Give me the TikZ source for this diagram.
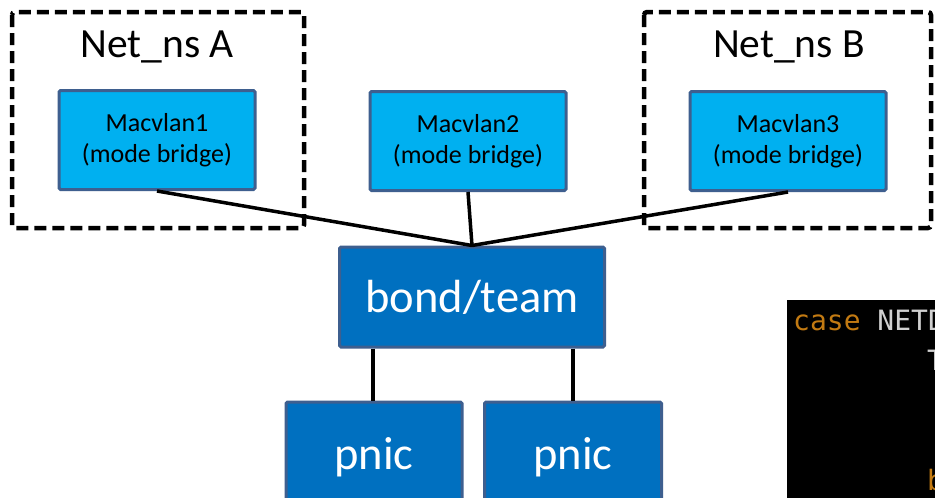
\documentclass[tikz,border=0pt]{standalone}
\usepackage{fontspec}
\setmainfont{Carlito}
\newfontfamily\codefont{DejaVu Sans Mono}
\definecolor{lightnic}{HTML}{00B0F0}
\definecolor{darknic}{HTML}{0070C0}
\definecolor{nicborder}{HTML}{3E5F8F}
\definecolor{kwcolor}{HTML}{C27A12}
\definecolor{idcolor}{HTML}{D0D0D0}
\tikzset{
  nsbox/.style={draw=black, line width=4.5pt, dash pattern=on 12pt off 6pt, rounded corners=3pt},
  nstitle/.style={font=\fontsize{41.5}{48}\selectfont, text=black, inner sep=0pt},
  macbox/.style={draw=nicborder, line width=3pt, fill=lightnic, rounded corners=1.5pt,
    minimum width=196pt, minimum height=99pt, inner sep=0pt, align=center,
    font=\fontsize{26}{31}\selectfont, text=black},
  devbox/.style={draw=nicborder, line width=3pt, fill=darknic, rounded corners=1.5pt,
    inner sep=0pt, text=white, font=\fontsize{46.5}{52}\selectfont},
  link/.style={draw=black, line width=3.5pt},
  codetext/.style={anchor=base west, inner sep=0pt, font=\codefont\fontsize{28}{40}\selectfont}
}
\begin{document}
\begin{tikzpicture}[x=1pt,y=-1pt]
  \useasboundingbox (0,0) rectangle (935,498);
  \fill[white] (0,0) rectangle (935,498);

  % network namespaces
  \draw[nsbox] (12,12) rectangle (304,228);
  \draw[nsbox] (644,12) rectangle (931,228);
  \node[nstitle] (nsA) at (157,47) {Net\_ns A};
  \node[nstitle] (nsB) at (789,47) {Net\_ns B};

  % macvlan devices
  \node[macbox] (mv1) at (157,140) {Macvlan1\\(mode bridge)};
  \node[macbox] (mv2) at (468,141) {Macvlan2\\(mode bridge)};
  \node[macbox] (mv3) at (788,141) {Macvlan3\\(mode bridge)};

  % bond / team and physical NICs
  \node[devbox, minimum width=265pt, minimum height=100pt] (bond) at (472,297) {bond/team};
  \node[devbox, minimum width=176pt, minimum height=110pt] (pnic1) at (374,457) {pnic};
  \node[devbox, minimum width=177pt, minimum height=110pt] (pnic2) at (573,457) {pnic};

  % links
  \coordinate (hub) at (bond.north);
  \draw[link] (mv1.south) -- (hub);
  \draw[link] (mv2.south) -- (hub);
  \draw[link] (mv3.south) -- (hub);
  \draw[link] (bond.south -| 373,0) -- (pnic1.north -| 373,0);
  \draw[link] (bond.south -| 573,0) -- (pnic2.north -| 573,0);

  % code snippet, running off the right edge
  \begin{scope}
    \clip (787,300) rectangle (935,498);
    \fill[black] (787,300) rectangle (935,498);
    \node[codetext] (code1) at (793,330)
      {\textcolor{kwcolor}{case} \textcolor{idcolor}{NETDEV}};
    \node[codetext, text=idcolor] (code2) at (927,370) {T};
    \node[codetext, text=kwcolor] (code5) at (927,490) {b};
  \end{scope}
\end{tikzpicture}
\end{document}
